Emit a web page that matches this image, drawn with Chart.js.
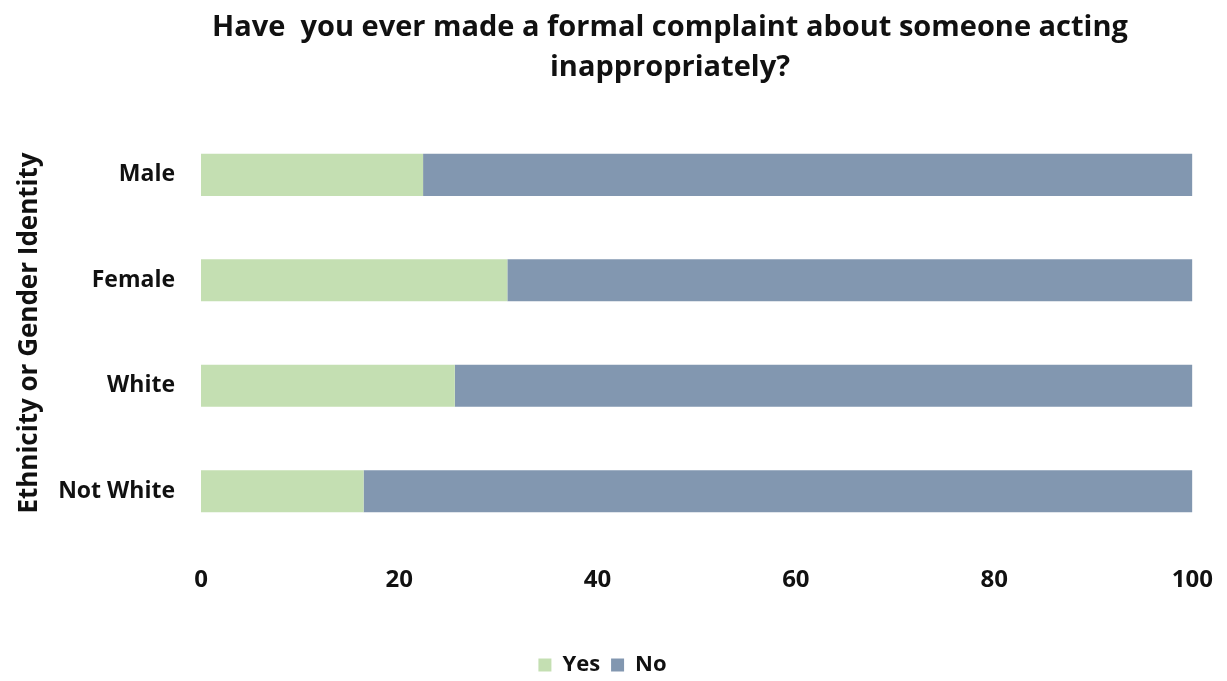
<!DOCTYPE html>
<html>
<head>
<meta charset="utf-8">
<script src="https://cdn.jsdelivr.net/npm/chart.js@4"></script>
<style>
  html, body { margin: 0; padding: 0; background: #ffffff; }
  #wrap { width: 1227px; height: 681px; }
</style>
</head>
<body>
<div id="wrap"><canvas id="c"></canvas></div>
<script>
var groups = ["Male", "Female", "White", "Not White"];
var yesValues = [22.4, 30.9, 25.6, 16.4];
var noValues = [77.6, 69.1, 74.4, 83.6];
var xTicks = [0, 20, 40, 60, 80, 100];

var font = "'Open Sans', 'Liberation Sans', sans-serif";

// the original title is centred a bit right of the canvas middle
var shiftTitle = {
    id: "shiftTitle",
    afterLayout: function (chart) {
        if (chart.titleBlock) chart.titleBlock.left = 147;
    }
};

new Chart(document.getElementById("c"), {
    type: "bar",
    data: {
        labels: groups,
        datasets: [
            { label: "Yes", data: yesValues, backgroundColor: "#c4dfb2", borderWidth: 0 },
            { label: "No", data: noValues, backgroundColor: "#8297b0", borderWidth: 0 }
        ]
    },
    plugins: [shiftTitle],
    options: {
        indexAxis: "y",
        responsive: true,
        maintainAspectRatio: false,
        animation: false,
        layout: { padding: { left: 12, right: 34, top: 0, bottom: -5 } },
        datasets: { bar: { barPercentage: 0.4, categoryPercentage: 1 } },
        plugins: {
            title: {
                display: true,
                text: ["Have  you ever made a formal complaint about someone acting", "inappropriately?"],
                color: "#111111",
                font: { family: font, size: 29, weight: "bold", lineHeight: 1.38 },
                padding: { top: 8, bottom: 34 }
            },
            legend: {
                position: "bottom",
                labels: {
                    color: "#111111",
                    font: { family: font, size: 22, weight: "bold" },
                    boxWidth: 13,
                    boxHeight: 13,
                    padding: 11
                }
            },
            tooltip: { enabled: false }
        },
        scales: {
            x: {
                stacked: true,
                min: 0,
                max: 100,
                afterBuildTicks: function (scale) {
                    scale.ticks = xTicks.map(function (v) { return { value: v }; });
                },
                grid: { display: false },
                border: { display: false },
                ticks: {
                    color: "#111111",
                    font: { family: font, size: 24, weight: "bold" },
                    padding: 14
                },
                afterFit: function (scale) { scale.height = 99; }
            },
            y: {
                stacked: true,
                grid: { display: false },
                border: { display: false },
                title: {
                    display: true,
                    text: "Ethnicity or Gender Identity",
                    color: "#111111",
                    font: { family: font, size: 26, weight: "bold" },
                    padding: { top: 2, bottom: 10 }
                },
                ticks: {
                    color: "#111111",
                    font: { family: font, size: 23, weight: "bold" },
                    padding: 18
                },
                afterFit: function (scale) { scale.width = 189; }
            }
        }
    }
});
</script>
</body>
</html>
